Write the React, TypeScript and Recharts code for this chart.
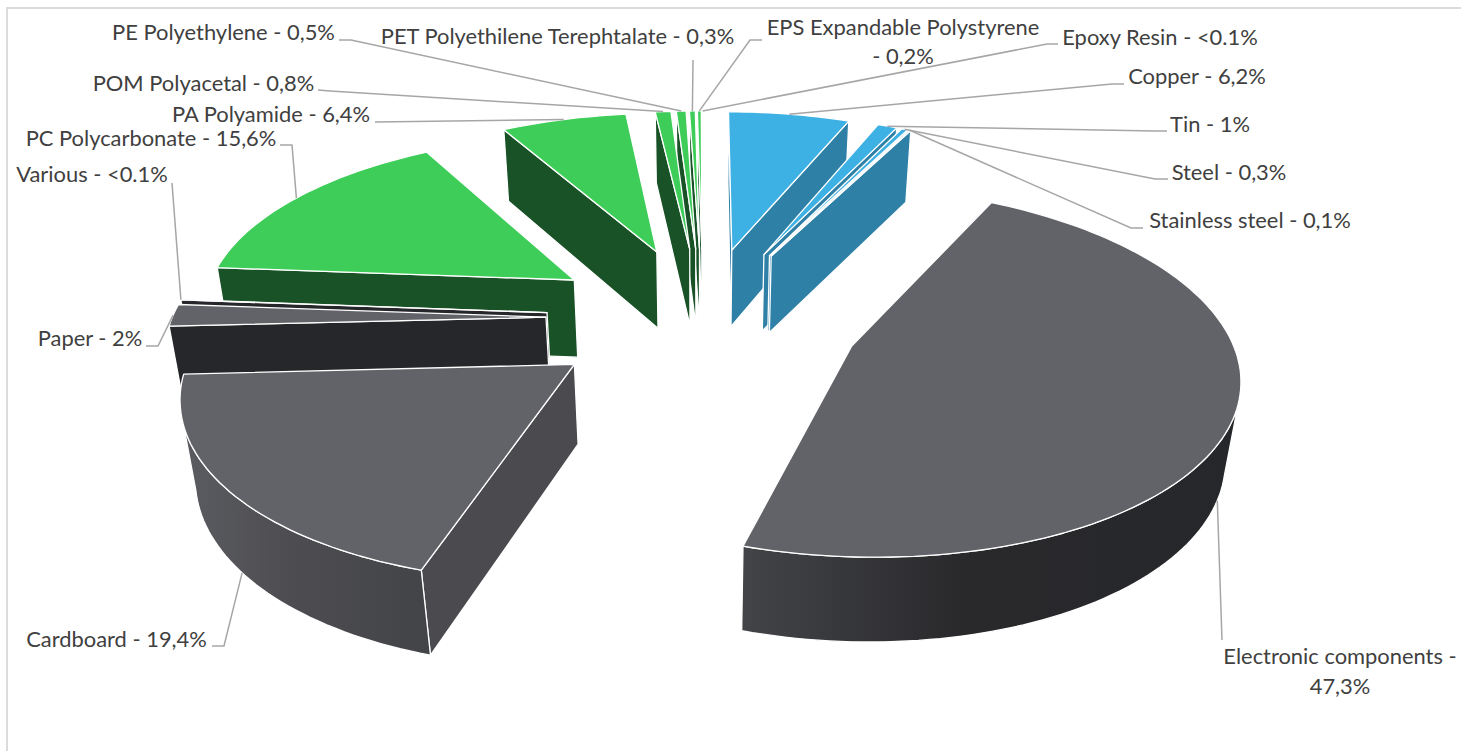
import React from "react";
import { PieChart, Pie } from "recharts";

const names = ["Copper", "Tin", "Steel", "Stainless steel", "Electronic components", "Cardboard", "Paper", "Various", "PC Polycarbonate", "PA Polyamide", "POM Polyacetal", "PE Polyethylene", "PET Polyethilene Terephtalate", "EPS Expandable Polystyrene", "Epoxy Resin"];
const values = [6.2, 1, 0.3, 0.1, 47.3, 19.4, 2, 0.03, 15.6, 6.4, 0.8, 0.5, 0.3, 0.2, 0.03];
const valueLabels = ["6,2%", "1%", "0,3%", "0,1%", "47,3%", "19,4%", "2%", "<0.1%", "15,6%", "6,4%", "0,8%", "0,5%", "0,3%", "0,2%", "<0.1%"];

const slices = names.map((name, i) => ({ name, value: values[i], valueLabel: valueLabels[i] }));
const slicesReversed = [...slices].reverse();

// Layout of the hand-placed labels (Excel-style): text lines, centre, baselines, leader elbows.
const labelLayout: Record<string, { lines: string[]; cx: number; ys: number[]; leader: number[][] }> = {
  "Copper": { lines: ["Copper - 6,2%"], cx: 1197, ys: [84], leader: [[1124, 84], [1112, 84]] },
  "Tin": { lines: ["Tin - 1%"], cx: 1210, ys: [132], leader: [[1167, 131], [1155, 131]] },
  "Steel": { lines: ["Steel - 0,3%"], cx: 1229, ys: [180], leader: [[1168, 179], [1155, 179]] },
  "Stainless steel": { lines: ["Stainless steel - 0,1%"], cx: 1250, ys: [228], leader: [[1143, 228], [1131, 228]] },
  "Electronic components": { lines: ["Electronic components -", "47,3%"], cx: 1340, ys: [664, 694], leader: [[1222, 640]] },
  "Cardboard": { lines: ["Cardboard - 19,4%"], cx: 116.5, ys: [647], leader: [[212, 646], [224, 646]] },
  "Paper": { lines: ["Paper - 2%"], cx: 90, ys: [346], leader: [[146, 346], [158, 346]] },
  "Various": { lines: ["Various - <0.1%"], cx: 92, ys: [182], leader: [[172, 183]] },
  "PC Polycarbonate": { lines: ["PC Polycarbonate - 15,6%"], cx: 151, ys: [146], leader: [[280, 145], [292, 145]] },
  "PA Polyamide": { lines: ["PA Polyamide - 6,4%"], cx: 271, ys: [122], leader: [[375, 122]] },
  "POM Polyacetal": { lines: ["POM Polyacetal - 0,8%"], cx: 203.5, ys: [91], leader: [[318, 90], [330, 91]] },
  "PE Polyethylene": { lines: ["PE Polyethylene - 0,5%"], cx: 223.5, ys: [40], leader: [[339, 40], [351, 40]] },
  "PET Polyethilene Terephtalate": { lines: ["PET Polyethilene Terephtalate - 0,3%"], cx: 557.5, ys: [44], leader: [[693, 60]] },
  "EPS Expandable Polystyrene": { lines: ["EPS Expandable Polystyrene", "- 0,2%"], cx: 903, ys: [35, 64], leader: [[762, 40], [750, 40]] },
  "Epoxy Resin": { lines: ["Epoxy Resin - <0.1%"], cx: 1160, ys: [45], leader: [[1058, 44], [1047, 44]] },
};

const GREEN = { top: "#3dcd58", radial: "#195226", outerA: "#195226", outerM: "#195226", outerB: "#195226" };
const BLUE = { top: "#3eb1e4", radial: "#2e80a6", outerA: "#2e80a6", outerM: "#2e80a6", outerB: "#2e80a6" };
const sliceStyles: Record<string, { top: string; radial: string; outerA: string; outerM: string; outerB: string }> = {
  "Copper": BLUE, "Tin": BLUE, "Steel": BLUE, "Stainless steel": BLUE,
  "Electronic components": { top: "#626368", radial: "#26272a", outerA: "#434448", outerM: "#29292c", outerB: "#26272a" },
  "Cardboard": { top: "#626368", radial: "#4b4b4f", outerA: "#5b5c61", outerM: "#4d4d51", outerB: "#434447" },
  "Paper": { top: "#626368", radial: "#26272a", outerA: "#26272a", outerM: "#26272a", outerB: "#26272a" },
  "Various": { top: "#626368", radial: "#26272a", outerA: "#26272a", outerM: "#26272a", outerB: "#26272a" },
  "PC Polycarbonate": GREEN, "PA Polyamide": GREEN, "POM Polyacetal": GREEN, "PE Polyethylene": GREEN,
  "PET Polyethilene Terephtalate": GREEN, "EPS Expandable Polystyrene": GREEN, "Epoxy Resin": GREEN,
};

// 3D projection of the tilted exploded pie
const EXPLODE = 0.42;
const TILT_S = 0.465;
const TILT_C = 0.88;
const DIST = 6.5;
const THICK = 0.245;
const CAM_Y = 6;
const RAD = Math.PI / 180;

type Ctx = { cx: number; cy: number; F: number };
function project(c: Ctx, X: number, Y: number, Z: number): [number, number] {
  const w = DIST / (DIST - Y * TILT_C - Z * 0.75);
  return [c.cx + c.F * X * w, c.cy + c.F * (Y * TILT_S - Z * TILT_C) * w];
}
function clockAngles(s: number, t: number): [number, number] {
  let lo = Math.min(90 - s, 90 - t);
  let hi = Math.max(90 - s, 90 - t);
  if (lo < -1e-6) { lo += 360; hi += 360; }
  return [lo, hi];
}
function rimPoint(mid: number, a: number) {
  const ex = EXPLODE * Math.sin(mid * RAD), ey = -EXPLODE * Math.cos(mid * RAD);
  return { X: ex + Math.sin(a * RAD), Y: ey - Math.cos(a * RAD), ex, ey };
}
const toPath = (pts: [number, number][]) =>
  "M" + pts.map((p) => p[0].toFixed(1) + "," + p[1].toFixed(1)).join("L") + "Z";

function makeShape(allowed: (name: string) => boolean) {
  return function SliceShape(props: any) {
    const name: string = props.name ?? props.payload?.name;
    if (!allowed(name)) return <g />;
    const st = sliceStyles[name];
    const c: Ctx = { cx: props.cx, cy: props.cy, F: props.outerRadius };
    const [a0, a1] = clockAngles(props.startAngle, props.endAngle);
    const mid = (a0 + a1) / 2;
    const { ex, ey } = rimPoint(mid, a0);
    const n = Math.max(2, Math.ceil((a1 - a0) / 1.5));
    const top: [number, number][] = [];
    const bot: [number, number][] = [];
    const visTop: [number, number][] = [];
    const visBot: [number, number][] = [];
    for (let i = 0; i <= n; i++) {
      const a = a0 + ((a1 - a0) * i) / n;
      const p = rimPoint(mid, a);
      const t = project(c, p.X, p.Y, 0);
      const b = project(c, p.X, p.Y, -THICK);
      top.push(t);
      bot.push(b);
      // outer wall faces the camera?
      const facing = -p.X * Math.sin(a * RAD) + (CAM_Y - p.Y) * -Math.cos(a * RAD);
      if (facing > 0) { visTop.push(t); visBot.push(b); }
    }
    const apexT = project(c, ex, ey, 0);
    const apexB = project(c, ex, ey, -THICK);
    // back-face culling of the two radial walls, seen from the camera in the pie's plane
    const startVisible = (0 - ex) * -Math.cos(a0 * RAD) + (CAM_Y - ey) * -Math.sin(a0 * RAD) > 0;
    const endVisible = (0 - ex) * Math.cos(a1 * RAD) + (CAM_Y - ey) * Math.sin(a1 * RAD) > 0;
    const gid = "wall-" + names.indexOf(name);
    const sw = 1.3;
    return (
      <g>
        <defs>
          <linearGradient id={gid} x1="0" x2="1" y1="0" y2="0">
            <stop offset="0" stopColor={st.outerA} />
            <stop offset="0.45" stopColor={st.outerM} />
            <stop offset="1" stopColor={st.outerB} />
          </linearGradient>
        </defs>
        {startVisible && <path d={toPath([apexT, top[0], bot[0], apexB])} fill={st.radial} stroke="#fff" strokeWidth={sw} strokeLinejoin="round" />}
        {endVisible && <path d={toPath([apexT, top[n], bot[n], apexB])} fill={st.radial} stroke="#fff" strokeWidth={sw} strokeLinejoin="round" />}
        {visTop.length > 1 && <path d={toPath([...visTop, ...[...visBot].reverse()])} fill={`url(#${gid})`} stroke="#fff" strokeWidth={sw} strokeLinejoin="round" />}
        <path d={toPath([apexT, ...top])} fill={st.top} stroke="#fff" strokeWidth={sw} strokeLinejoin="round" />
      </g>
    );
  };
}

function SliceLabel(props: any) {
  const name: string = props.name ?? props.payload?.name;
  const lay = labelLayout[name];
  if (!lay) return null;
  const c: Ctx = { cx: props.cx, cy: props.cy, F: props.outerRadius };
  const [a0, a1] = clockAngles(props.startAngle, props.endAngle);
  const mid = (a0 + a1) / 2;
  const p = rimPoint(mid, mid);
  const front = -Math.cos(mid * RAD) > 0.2;
  const start = project(c, p.X, p.Y, front ? -THICK : 0);
  const pts = [...lay.leader, start].map((q) => q[0].toFixed(1) + "," + q[1].toFixed(1)).join(" ");
  return (
    <g>
      <polyline points={pts} fill="none" stroke="#a6a6a6" strokeWidth={1.5} />
      {lay.lines.map((line, i) => (
        <text key={i} x={lay.cx} y={lay.ys[i]} textAnchor="middle" fontFamily="Lato" fontSize={21.9} fill="#404040">{line}</text>
      ))}
    </g>
  );
}

const rightNames = names.slice(0, 5);
const RightShape = makeShape((n) => rightNames.includes(n));
const LeftShape = makeShape((n) => !rightNames.includes(n));

export default function App() {
  return (
    <div style={{ position: "absolute", left: 0, top: 0, width: 1461, height: 751, overflow: "hidden", background: "#fff" }}>
      <div style={{ position: "absolute", left: 6, top: 7, width: 1455, height: 744, borderLeft: "2px solid #dcdcdc", borderTop: "2px solid #dcdcdc" }} />
      <div style={{ position: "absolute", left: 0, top: 0 }}>
        <PieChart width={1461} height={751} margin={{ top: 0, right: 0, bottom: 0, left: 0 }}>
          <Pie data={slices} dataKey="value" nameKey="name" cx={703} cy={318} outerRadius={374} innerRadius={0}
            startAngle={90} endAngle={-270} isAnimationActive={false} shape={RightShape} label={false} labelLine={false} />
          <Pie data={slicesReversed} dataKey="value" nameKey="name" cx={703} cy={318} outerRadius={374} innerRadius={0}
            startAngle={90} endAngle={450} isAnimationActive={false} shape={LeftShape} label={SliceLabel} labelLine={false} />
        </PieChart>
      </div>
    </div>
  );
}
